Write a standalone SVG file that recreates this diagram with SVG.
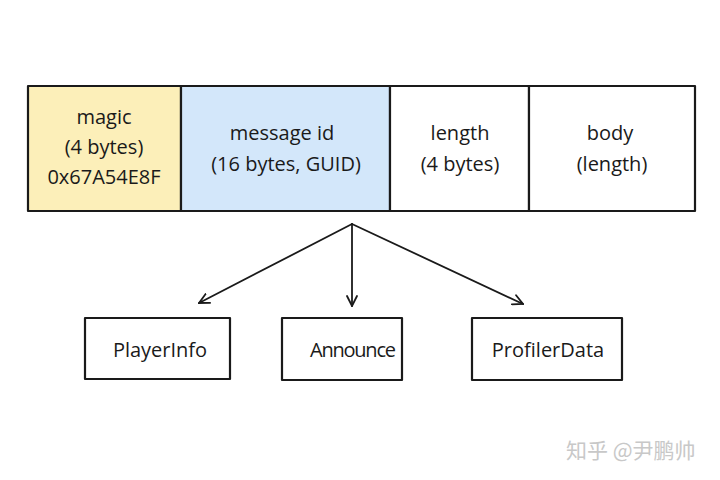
<svg xmlns="http://www.w3.org/2000/svg" width="720" height="480" viewBox="0 0 720 480">
<defs>
<style>
.b{stroke:#1a1a1a;stroke-width:2.2;stroke-linejoin:round}
.t{font-family:"Open Sans","Noto Sans",sans-serif;font-size:20px;fill:#1a1a1a;text-anchor:middle}
.c{stroke:#1a1a1a;stroke-width:1.8;fill:none;stroke-linecap:round}
.w{font-family:"Noto Sans CJK SC",sans-serif;font-size:21px;fill:#c8c8c8}
</style>
<marker id="ah" viewBox="0 0 12 12" refX="11" refY="6" markerWidth="12" markerHeight="12" markerUnits="userSpaceOnUse" orient="auto">
<path d="M1,1 L11,6 L1,11" fill="none" stroke="#1a1a1a" stroke-width="1.8" stroke-linecap="round"/>
</marker>
</defs>
<rect width="720" height="480" fill="#ffffff"/>
<g id="magic">
<rect x="28" y="86" width="153" height="125" fill="#fcefb9" class="b"/>
<text class="t" x="104" y="124">magic</text>
<text class="t" x="104" y="154">(4 bytes)</text>
<text class="t" x="104" y="184">0x67A54E8F</text>
</g>
<g id="messageid">
<rect x="181" y="86" width="209" height="125" fill="#d3e7fa" class="b"/>
<text class="t" x="282" y="140">message id</text>
<text class="t" x="286" y="171">(16 bytes, GUID)</text>
</g>
<g id="length">
<rect x="390" y="86" width="139" height="125" fill="#ffffff" class="b"/>
<text class="t" x="460" y="140">length</text>
<text class="t" x="460" y="171">(4 bytes)</text>
</g>
<g id="body">
<rect x="529" y="86" width="166" height="125" fill="#ffffff" class="b"/>
<text class="t" x="610" y="140">body</text>
<text class="t" x="612" y="171">(length)</text>
</g>
<g id="connectors">
<line class="c" x1="352" y1="224" x2="199" y2="303" marker-end="url(#ah)"/>
<line class="c" x1="352" y1="224" x2="352" y2="306" marker-end="url(#ah)"/>
<line class="c" x1="352" y1="224" x2="523" y2="304" marker-end="url(#ah)"/>
</g>
<g id="playerinfo">
<rect x="85" y="318" width="145" height="61" fill="#ffffff" class="b"/>
<text class="t" x="160" y="357">PlayerInfo</text>
</g>
<g id="announce">
<rect x="282" y="318" width="120" height="62" fill="#ffffff" class="b"/>
<text class="t" x="353" y="357" textLength="86">Announce</text>
</g>
<g id="profilerdata">
<rect x="472" y="318" width="150" height="62" fill="#ffffff" class="b"/>
<text class="t" x="548" y="357">ProfilerData</text>
</g>
<text class="w" x="566" y="458">知乎 @尹鹏帅</text>
</svg>
